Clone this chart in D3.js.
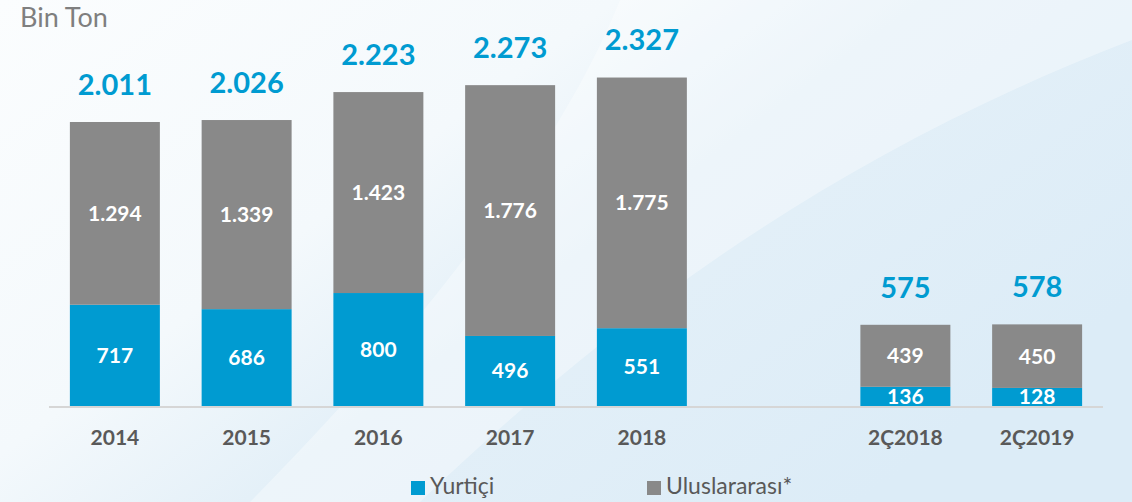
<!DOCTYPE html>
<html><head><meta charset="utf-8">
<script src="https://cdn.jsdelivr.net/npm/d3@7"></script>
<style>html,body{margin:0;padding:0;background:#fff;}svg{display:block;}</style>
</head><body>
<svg id="c" width="1132" height="502"></svg>
<script>
const categories = ["2014","2015","2016","2017","2018","2Ç2018","2Ç2019"];
const yurtici = [717,686,800,496,551,136,128];
const uluslararasi = [1294,1339,1423,1776,1775,439,450];
const totals = [2011,2026,2223,2273,2327,575,578];
const totalLabels = ["2.011","2.026","2.223","2.273","2.327","575","578"];
const yurticiLabels = ["717","686","800","496","551","136","128"];
const uluslararasiLabels = ["1.294","1.339","1.423","1.776","1.775","439","450"];
const seriesNames = ["Yurtiçi","Uluslararası*"];

const BLUE = "#009bd1", GRAY = "#898989", FONT = "Lato, 'Open Sans', sans-serif";
const svg = d3.select("#c");

// background
const defs = svg.append("defs");
const g1 = defs.append("linearGradient").attr("id","bg").attr("x1","0").attr("y1","0").attr("x2","1").attr("y2","0.6");
g1.append("stop").attr("offset","0").attr("stop-color","#fbfdfe");
g1.append("stop").attr("offset","0.4").attr("stop-color","#f4f9fc");
g1.append("stop").attr("offset","0.6").attr("stop-color","#e4f0f8");
g1.append("stop").attr("offset","1").attr("stop-color","#dcecf7");
svg.append("rect").attr("width",1132).attr("height",502).attr("fill","url(#bg)");
svg.append("path").attr("d","M620,0 C560,150 420,330 250,502 L420,502 C600,330 820,160 1132,40 L1132,0 Z")
  .attr("fill","#ffffff").attr("opacity",0.35);

// scales: slot 5 left empty between annual and quarterly bars
const slotOf = i => i < 5 ? i : i + 1;
const x = d3.scaleBand().domain(d3.range(8)).range([49, 1103]).paddingInner(0.317).paddingOuter(0.1585);
const y = d3.scaleLinear().domain([0, 2875]).range([406, 0]);

const data = categories.map((c,i)=>({c, i, a:yurtici[i], b:uluslararasi[i], t:totals[i]}));
const stack = d3.stack().keys(["a","b"])(data);

// axis line
svg.append("line").attr("x1",49).attr("x2",1103).attr("y1",y(0)+1).attr("y2",y(0)+1)
  .attr("stroke","#d6d6d6").attr("stroke-width",2);

const colors = [BLUE, GRAY];
stack.forEach((layer,k)=>{
  svg.append("g").selectAll("rect").data(layer).join("rect")
    .attr("x", d=>x(slotOf(d.data.i)))
    .attr("width", x.bandwidth())
    .attr("y", d=>y(d[1]))
    .attr("height", d=>y(d[0])-y(d[1]))
    .attr("fill", colors[k]);
});

// segment labels
const segLabels = [yurticiLabels, uluslararasiLabels];
stack.forEach((layer,k)=>{
  svg.append("g").selectAll("text").data(layer).join("text")
    .attr("x", d=>x(slotOf(d.data.i)) + x.bandwidth()/2)
    .attr("y", d=>(y(d[0])+y(d[1]))/2 + 2)
    .attr("text-anchor","middle").attr("dominant-baseline","middle")
    .attr("font-family",FONT).attr("font-weight","bold").attr("font-size",21)
    .attr("fill","#fff").text(d=>segLabels[k][d.data.i]);
});

// totals
svg.append("g").selectAll("text").data(data).join("text")
  .attr("x", d=>x(slotOf(d.i)) + x.bandwidth()/2)
  .attr("y", d=>y(d.t) - 27)
  .attr("text-anchor","middle")
  .attr("font-family",FONT).attr("font-weight","bold").attr("font-size",29)
  .attr("fill",BLUE).text(d=>totalLabels[d.i]);

// x axis labels
const xAxis = d3.axisBottom(x).tickSize(0).tickPadding(0)
  .tickFormat(s => { const i = s < 5 ? s : s - 1; return s === 5 ? "" : categories[i]; });
const ax = svg.append("g").attr("transform",`translate(0,${y(0)})`).call(xAxis);
ax.select(".domain").remove();
ax.selectAll("text").attr("dy",null).attr("y",39)
  .attr("font-family",FONT).attr("font-weight","bold").attr("font-size",21).attr("fill","#595959");

// title
svg.append("text").attr("x",20).attr("y",27).attr("font-family",FONT).attr("font-size",27)
  .attr("fill","#7f7f7f").text("Bin Ton");

// legend
const legX = [411, 647];
seriesNames.forEach((n,k)=>{
  svg.append("rect").attr("x",legX[k]).attr("y",481).attr("width",14).attr("height",14).attr("fill",colors[k]);
  svg.append("text").attr("x",legX[k]+19).attr("y",494).attr("font-family",FONT).attr("font-size",23)
    .attr("fill","#595959").text(n);
});
</script>
</body></html>
